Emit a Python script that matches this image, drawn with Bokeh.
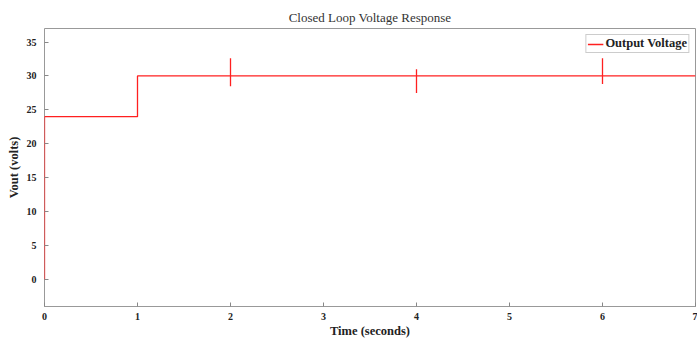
from bokeh.plotting import figure
from bokeh.models import Range1d, FixedTicker, Legend, LegendItem
from bokeh.embed import file_html
from bokeh.resources import INLINE

# Data (time in s, output voltage in V)
time_s = [0, 0, 1, 1, 2, 2, 2, 2, 4, 4, 4, 4, 6, 6, 6, 6, 7]
vout = [0, 24, 24, 30, 30, 32.6, 28.5, 30, 30, 31.0, 27.5, 30, 30, 32.6, 28.8, 30, 30]
x_ticks = [0, 1, 2, 3, 4, 5, 6, 7]
y_ticks = [0, 5, 10, 15, 20, 25, 30, 35]

FONT = "Liberation Serif"

p = figure(width=697, height=341, output_backend="svg", toolbar_location=None,
           x_range=Range1d(0, 7), y_range=Range1d(-4, 37),
           min_border_left=44, min_border_right=2, min_border_top=28, min_border_bottom=35)

p.title.text = "Closed Loop Voltage Response"
p.title.align = "center"
p.title.text_font = FONT
p.title.text_font_style = "normal"
p.title.text_font_size = "13px"
p.title.text_color = "#333333"
p.title.standoff = 8

p.xgrid.visible = False
p.ygrid.visible = False
p.outline_line_color = "#999999"
p.outline_line_width = 1

for ax in (p.xaxis[0], p.yaxis[0]):
    ax.major_label_text_font = FONT
    ax.major_label_text_font_style = "bold"
    ax.major_label_text_font_size = "10px"
    ax.major_label_text_color = "#222222"
    ax.axis_label_text_font = FONT
    ax.axis_label_text_font_style = "bold"
    ax.axis_label_text_font_size = "12.5px"
    ax.axis_label_text_color = "#222222"
    ax.major_tick_in = 4
    ax.major_tick_out = 0
    ax.minor_tick_line_color = None
    ax.major_tick_line_color = "#888888"
    ax.axis_line_color = "#999999"

p.xaxis[0].ticker = FixedTicker(ticks=x_ticks)
p.yaxis[0].ticker = FixedTicker(ticks=y_ticks)
p.xaxis[0].axis_label = "Time (seconds)"
p.yaxis[0].axis_label = "Vout (volts)"
p.xaxis[0].major_label_standoff = 6
p.xaxis[0].axis_label_standoff = 1
p.yaxis[0].major_label_standoff = 8
p.yaxis[0].axis_label_standoff = 3
p.yaxis[0].axis_line_color = None

r = p.line(time_s, vout, line_color="#ff2020", line_width=1.3)

legend = Legend(items=[LegendItem(label="Output Voltage", renderers=[r])],
                location="top_right")
legend.label_text_font = FONT
legend.label_text_font_style = "bold"
legend.label_text_font_size = "12.5px"
legend.label_text_color = "#222222"
legend.border_line_color = "#999999"
legend.padding = 1
legend.margin = 6
legend.spacing = 0
legend.glyph_width = 16
legend.glyph_height = 12
legend.label_height = 12
legend.label_standoff = 2
legend.background_fill_alpha = 1
p.add_layout(legend)

open("out.html", "w").write(file_html(p, INLINE))
